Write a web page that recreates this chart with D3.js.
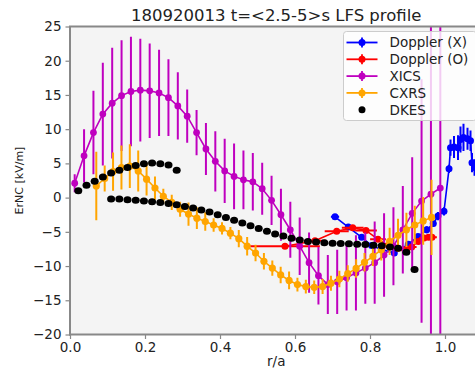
<!DOCTYPE html>
<html>
<head>
<meta charset="utf-8">
<script src="https://cdn.jsdelivr.net/npm/d3@7"></script>
<style>
  body { margin: 0; background: #fff; }
  svg { display: block; font-family: "DejaVu Sans", sans-serif; }
</style>
</head>
<body>
<div id="chart"></div>
<script>
// ---- data ----
const xicsR = [0.0125, 0.0375, 0.0625, 0.0875, 0.1125, 0.1375, 0.1625, 0.1875, 0.2125, 0.2375,
               0.2625, 0.2875, 0.3125, 0.3375, 0.3625, 0.3875, 0.4125, 0.4375, 0.4625, 0.4875,
               0.5125, 0.5375, 0.5625, 0.5875, 0.6125, 0.6375, 0.6625, 0.6875, 0.7125, 0.7375,
               0.7625, 0.7875, 0.8125, 0.8375, 0.8625, 0.8875, 0.9125, 0.9375, 0.9625, 0.9875];
const xicsEr = [2.1, 6.1, 9.5, 12.2, 13.8, 14.9, 15.5, 15.7, 15.6, 15.3,
                14.6, 13.4, 11.9, 9.5, 7.1, 5.3, 3.9, 3.1, 2.6, 2.3,
                1.3, -0.4, -2.5, -4.7, -7.1, -9.5, -11.4, -12.7, -12.3, -11.7,
                -11.0, -10.3, -9.5, -8.4, -7.1, -4.7, -2.3, -0.5, 0.5, 1.4];
const xicsErr = [1.3, 3.9, 6.1, 7.5, 8.1, 8.1, 8.0, 7.5, 6.9, 6.3,
                 5.6, 4.9, 3.9, 3.3, 3.8, 4.4, 4.7, 4.8, 4.3, 4.2,
                 3.8, 3.6, 3.8, 4.1, 4.2, 4.4, 4.2, 4.3, 4.7, 4.8,
                 5.5, 5.2, 6.0, 6.1, 5.7, 6.4, 8.2, 17.8, 28, 27];

const cxrsR = [0.0701, 0.0925, 0.1148, 0.1372, 0.1595, 0.1819, 0.2042, 0.2266, 0.2489, 0.2713,
               0.2936, 0.3160, 0.3383, 0.3607, 0.3830, 0.4054, 0.4277, 0.4501, 0.4724, 0.4948,
               0.5171, 0.5395, 0.5618, 0.5842, 0.6065, 0.6289, 0.6512, 0.6736, 0.6959, 0.7183,
               0.7406, 0.7630, 0.7853, 0.8077, 0.8300, 0.8524, 0.8747, 0.8971, 0.9194, 0.9418, 0.9641];
const cxrsEr = [1.7, 2.8, 3.8, 4.4, 4.6, 3.9, 2.7, 1.4, 0.2, -0.7,
                -1.7, -2.4, -3.0, -3.5, -4.0, -4.5, -5.2, -6.0, -7.1, -8.1,
                -9.3, -10.3, -11.3, -12.1, -12.7, -13.0, -13.1, -13.0, -12.5, -11.9,
                -11.1, -10.35, -9.45, -8.6, -7.6, -6.4, -5.5, -4.7, -4.0, -3.4, -2.9];
const cxrsErr = [5.0, 1.9, 2.8, 3.2, 3.2, 3.0, 2.4, 1.7, 1.1, 1.1,
                 1.1, 1.7, 1.6, 1.35, 1.0, 0.9, 0.9, 1.25, 1.35, 1.2,
                 1.2, 1.1, 1.2, 1.3, 1.0, 1.0, 1.0, 1.1, 1.1, 1.2,
                 1.2, 1.35, 1.35, 1.4, 1.6, 2.0, 2.4, 2.5, 2.8, 3.5, 5.5];

const dkesUpperR = [0.0221, 0.0440, 0.0658, 0.0877, 0.1096, 0.1315, 0.1533, 0.1752, 0.1971, 0.2189,
                    0.2408, 0.2627, 0.2845];
const dkesUpperEr = [1.0, 1.8, 2.4, 3.0, 3.6, 4.0, 4.4, 4.7, 4.95, 5.05, 4.95, 4.75, 4.0];
const dkesLowerR = [0.1096, 0.1315, 0.1533, 0.1752, 0.1971, 0.2189, 0.2408, 0.2627, 0.2845, 0.3064,
                    0.3283, 0.3502, 0.3720, 0.3939, 0.4158, 0.4376, 0.4595, 0.4814, 0.5032, 0.5251,
                    0.5470, 0.5689, 0.5907, 0.6126, 0.6345, 0.6563, 0.6782, 0.7001, 0.7219, 0.7438,
                    0.7657, 0.7876, 0.8094, 0.8313, 0.8532, 0.8750, 0.8969, 0.9188];
const dkesLowerEr = [-0.2, -0.2, -0.3, -0.4, -0.5, -0.6, -0.7, -0.85, -1.05, -1.3,
                     -1.5, -1.8, -2.1, -2.5, -2.9, -3.3, -3.7, -4.1, -4.5, -4.9,
                     -5.3, -5.6, -5.95, -6.2, -6.4, -6.5, -6.6, -6.65, -6.7, -6.75,
                     -6.8, -6.85, -6.95, -7.05, -7.2, -7.4, -8.0, -10.5];

const dopXR = [0.7067, 0.7421, 0.7779, 0.8045, 0.8312, 0.8648, 0.9021, 0.9280, 0.9512, 0.9688,
               0.9813, 0.9973, 1.0107, 1.0147, 1.0240, 1.0347, 1.0413, 1.0493, 1.0600, 1.0680,
               1.0720, 1.0787, 1.0880];
const dopXEr = [-2.8, -4.3, -5.8, -7.0, -7.6, -8.1, -6.8, -5.7, -4.7, -3.8,
                -2.7, -2.0, 4.2, 7.3, 7.4, 7.3, 8.5, 8.8, 8.6, 8.3,
                5.1, 4.4, 3.5];
const dopXErr = [0.3, 0.3, 0.3, 0.3, 0.3, 0.3, 0.4, 0.4, 0.5, 0.5,
                 0.6, 0.6, 0.6, 1.2, 1.6, 1.8, 1.9, 2.0, 1.6, 1.5,
                 1.4, 1.2, 1.0];
const dopXRerr = [0.011, 0.008, 0.008, 0.006, 0.006, 0.006, 0.005, 0.005, 0.004, 0.004,
                  0.004, 0.004, 0.003, 0.003, 0.003, 0.003, 0.003, 0.003, 0.003, 0.003,
                  0.003, 0.003, 0.003];

const dopOR = [0.5733, 0.6533, 0.7112, 0.7539, 0.7893, 0.8213, 0.8493, 0.8747, 0.8933, 0.9112,
               0.9288, 0.9440, 0.9560, 0.9653];
const dopOEr = [-7.1, -6.3, -4.9, -4.4, -4.8, -6.1, -7.0, -7.4, -7.6, -7.2,
                -6.4, -5.9, -5.8, -5.8];
const dopORerr = [0.093, 0.03, 0.032, 0.029, 0.029, 0.021, 0.016, 0.016, 0.013, 0.013,
                  0.013, 0.013, 0.016, 0.013];
const dopOErr = [0.3, 0.3, 0.3, 0.3, 0.3, 0.3, 0.3, 0.3, 0.3, 0.3, 0.3, 0.3, 0.3, 0.3];

const xTicks = [0.0, 0.2, 0.4, 0.6, 0.8, 1.0];
const yTicks = [-20, -15, -10, -5, 0, 5, 10, 15, 20, 25];
const legendLabels = ["Doppler (X)", "Doppler (O)", "XICS", "CXRS", "DKES"];
const legendColors = ["#0000ff", "#ff0000", "#bf00bf", "#ffa500", "#000000"];

// ---- layout ----
const W = 475, H = 369;
const plot = {left: 70, right: 482.5, top: 26.5, bottom: 334.5};

const svg = d3.select("#chart").append("svg")
    .attr("width", W)
    .attr("height", H);

const x = d3.scaleLinear().domain([0, 1.1]).range([plot.left, plot.right]);
const y = d3.scaleLinear().domain([-20, 25]).range([plot.bottom, plot.top]);

// plot background
svg.append("rect")
    .attr("x", plot.left).attr("y", plot.top)
    .attr("width", plot.right - plot.left)
    .attr("height", plot.bottom - plot.top)
    .attr("fill", "#f4f4f4");

svg.append("defs").append("clipPath").attr("id", "clip")
    .append("rect")
    .attr("x", plot.left).attr("y", plot.top)
    .attr("width", plot.right - plot.left)
    .attr("height", plot.bottom - plot.top);

const g = svg.append("g").attr("clip-path", "url(#clip)");

function zip(rs, vs, errs, rerrs) {
    return rs.map((r, i) => ({r: r, v: vs[i], e: errs ? errs[i] : 0, re: rerrs ? rerrs[i] : 0}));
}

// one series with errorbars, connecting line and markers
function drawSeries(data, color, opts) {
    const s = g.append("g");
    // vertical error bars
    s.selectAll(".ey").data(data.filter(d => d.e > 0)).enter().append("line")
        .attr("x1", d => x(d.r)).attr("x2", d => x(d.r))
        .attr("y1", d => y(d.v - d.e)).attr("y2", d => y(d.v + d.e))
        .attr("stroke", color).attr("stroke-width", 2);
    // horizontal error bars
    s.selectAll(".ex").data(data.filter(d => d.re > 0)).enter().append("line")
        .attr("x1", d => x(d.r - d.re)).attr("x2", d => x(d.r + d.re))
        .attr("y1", d => y(d.v)).attr("y2", d => y(d.v))
        .attr("stroke", color).attr("stroke-width", 2);
    if (opts.line) {
        s.append("path").datum(data)
            .attr("d", d3.line().x(d => x(d.r)).y(d => y(d.v)))
            .attr("fill", "none")
            .attr("stroke", color)
            .attr("stroke-width", 1.6);
    }
    s.selectAll("circle").data(data).enter().append("circle")
        .attr("cx", d => x(d.r)).attr("cy", d => y(d.v))
        .attr("r", opts.r || 3.5)
        .attr("fill", color);
}

drawSeries(zip(dopXR, dopXEr, dopXErr, dopXRerr), legendColors[0], {line: true});
drawSeries(zip(dopOR, dopOEr, dopOErr, dopORerr), legendColors[1], {line: true});
drawSeries(zip(xicsR, xicsEr, xicsErr), legendColors[2], {line: true, r: 3.4});
drawSeries(zip(cxrsR, cxrsEr, cxrsErr), legendColors[3], {line: true, r: 3.6});

// DKES dots (no line)
g.append("g").selectAll("ellipse")
    .data(zip(dkesUpperR, dkesUpperEr).concat(zip(dkesLowerR, dkesLowerEr)))
    .enter().append("ellipse")
    .attr("cx", d => x(d.r)).attr("cy", d => y(d.v))
    .attr("rx", 4).attr("ry", 3.5)
    .attr("fill", "#000");

// ---- axes ----
const spine = "#888888";
const xAxis = svg.append("g")
    .attr("transform", `translate(0,${plot.bottom})`)
    .call(d3.axisBottom(x).tickValues(xTicks).tickFormat(d3.format(".1f")).tickSize(4.5).tickPadding(3));
const yAxis = svg.append("g")
    .attr("transform", `translate(${plot.left},0)`)
    .call(d3.axisLeft(y).tickValues(yTicks).tickFormat(d => d < 0 ? "\u2212" + Math.abs(d) : d).tickSize(4.5).tickPadding(4));

[xAxis, yAxis].forEach(a => {
    a.select(".domain").remove();
    a.selectAll(".tick line").attr("stroke", spine).attr("stroke-width", 1.2);
    a.selectAll(".tick text")
        .attr("fill", "#222")
        .style("font-size", "13.5px")
        .style("font-family", "DejaVu Sans");
});

// spines: left, bottom, top
svg.append("line").attr("x1", plot.left).attr("x2", plot.left)
    .attr("y1", plot.top).attr("y2", plot.bottom + 1)
    .attr("stroke", spine).attr("stroke-width", 2);
svg.append("line").attr("x1", plot.left - 1).attr("x2", plot.right)
    .attr("y1", plot.bottom).attr("y2", plot.bottom)
    .attr("stroke", spine).attr("stroke-width", 2);
svg.append("line").attr("x1", plot.left - 1).attr("x2", plot.right)
    .attr("y1", plot.top).attr("y2", plot.top)
    .attr("stroke", spine).attr("stroke-width", 2);

// title and axis labels
svg.append("text")
    .attr("x", (plot.left + plot.right) / 2).attr("y", 20.5)
    .attr("text-anchor", "middle")
    .style("font-size", "16.5px")
    .attr("fill", "#222")
    .text("180920013 t=<2.5-5>s LFS profile");

svg.append("text")
    .attr("x", (plot.left + plot.right) / 2).attr("y", 365.5)
    .attr("text-anchor", "middle")
    .style("font-size", "13.5px")
    .attr("fill", "#222")
    .text("r/a");

svg.append("text")
    .attr("transform", `translate(23,${(plot.top + plot.bottom) / 2}) rotate(-90)`)
    .attr("text-anchor", "middle")
    .style("font-size", "11px")
    .attr("fill", "#222")
    .text("ErNC [kV/m]");

// ---- legend ----
const leg = svg.append("g").attr("transform", "translate(343.5,31.5)");
leg.append("rect")
    .attr("width", 133).attr("height", 89)
    .attr("rx", 3)
    .attr("fill", "#ffffff").attr("fill-opacity", 0.8)
    .attr("stroke", "#cccccc").attr("stroke-width", 1);

legendLabels.forEach((lab, i) => {
    const cy = 11 + i * 16.8;
    const row = leg.append("g");
    if (i < 4) {
        row.append("line").attr("x1", 3).attr("x2", 34).attr("y1", cy).attr("y2", cy)
            .attr("stroke", legendColors[i]).attr("stroke-width", 1.8);
        row.append("line").attr("x1", 18.5).attr("x2", 18.5).attr("y1", cy - 5).attr("y2", cy + 5)
            .attr("stroke", legendColors[i]).attr("stroke-width", 1.8);
    }
    row.append("circle").attr("cx", 18.5).attr("cy", cy).attr("r", 3.5)
        .attr("fill", legendColors[i]);
    row.append("text").attr("x", 46).attr("y", cy + 4.8)
        .style("font-size", "13.5px")
        .attr("fill", "#222")
        .text(lab);
});
</script>
</body>
</html>
